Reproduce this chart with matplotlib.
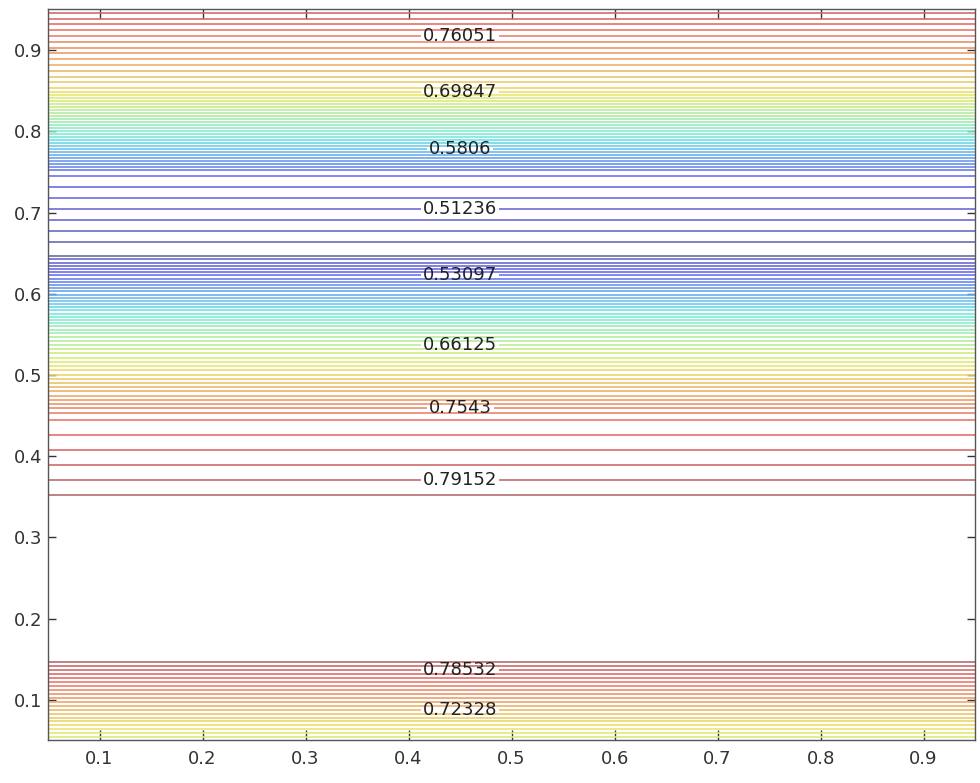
import numpy as np
import matplotlib
matplotlib.use("Agg")
import matplotlib.pyplot as plt
from matplotlib.colors import ListedColormap, Normalize

# ---- data ----
x_nodes = [0.05, 0.15, 0.25, 0.35, 0.45, 0.55, 0.65, 0.75, 0.85, 0.95]
y_nodes = [0.05, 0.15, 0.25, 0.35, 0.45, 0.55, 0.65, 0.75, 0.85, 0.95]
profile = [0.675, 0.8018, 0.8039, 0.7985, 0.7650, 0.6457, 0.4876, 0.5334, 0.7020, 0.7890]

level_start = 0.51236
level_step = 0.00620365
level_k = np.arange(-3, 47)

label_values = [0.76051, 0.69847, 0.5806, 0.51236, 0.53097, 0.66125, 0.7543, 0.79152, 0.78532, 0.72328]
label_y = [0.917, 0.848, 0.778, 0.704, 0.623, 0.537, 0.459, 0.373, 0.137, 0.088]
label_x = 0.45

ticks = [0.1, 0.2, 0.3, 0.4, 0.5, 0.6, 0.7, 0.8, 0.9]
tick_labels = ["0.1", "0.2", "0.3", "0.4", "0.5", "0.6", "0.7", "0.8", "0.9"]

# ---- build ----
X, Y = np.meshgrid(np.array(x_nodes), np.array(y_nodes))
Z = np.tile(np.array(profile)[:, None], (1, len(x_nodes)))
levels = level_start + level_step * level_k

# split levels into labelled and plain ones
lab_idx = sorted({int(np.argmin(np.abs(levels - v))) for v in label_values})
lab_levels = levels[lab_idx]
plain_levels = np.delete(levels, lab_idx)

jet = plt.get_cmap("jet")(np.linspace(0, 1, 256))
muted = jet.copy()
muted[:, :3] = 0.5 * jet[:, :3] + 0.5 * 0.85
cmap = ListedColormap(muted)
norm = Normalize(vmin=min(profile), vmax=max(profile))

fig = plt.figure(figsize=(9.8, 7.83), dpi=100)
ax = fig.add_axes([0.049, 0.0543, 0.946, 0.9336])

cs_plain = ax.contour(X, Y, Z, levels=plain_levels, cmap=cmap, norm=norm, linewidths=1.2)
cs_lab = ax.contour(X, Y, Z, levels=lab_levels, cmap=cmap, norm=norm, linewidths=1.2)

manual = [(label_x, yy) for yy in label_y]
ax.clabel(cs_lab, manual=manual, inline=True, inline_spacing=2,
          fmt="%.5g", fontsize=13, colors="#222222")

ax.set_xlim(0.05, 0.95)
ax.set_ylim(0.05, 0.95)
ax.set_xticks(ticks)
ax.set_xticklabels(tick_labels)
ax.set_yticks(ticks)
ax.set_yticklabels(tick_labels)
ax.tick_params(axis="both", direction="in", top=True, right=True,
               labelsize=13, colors="#333333", width=1.0)
ax.tick_params(axis="x", length=7, pad=7)
ax.tick_params(axis="y", length=6, pad=4)
for s in ax.spines.values():
    s.set_color("#555555")
    s.set_linewidth(1.0)

fig.savefig("out.png", dpi=100)
